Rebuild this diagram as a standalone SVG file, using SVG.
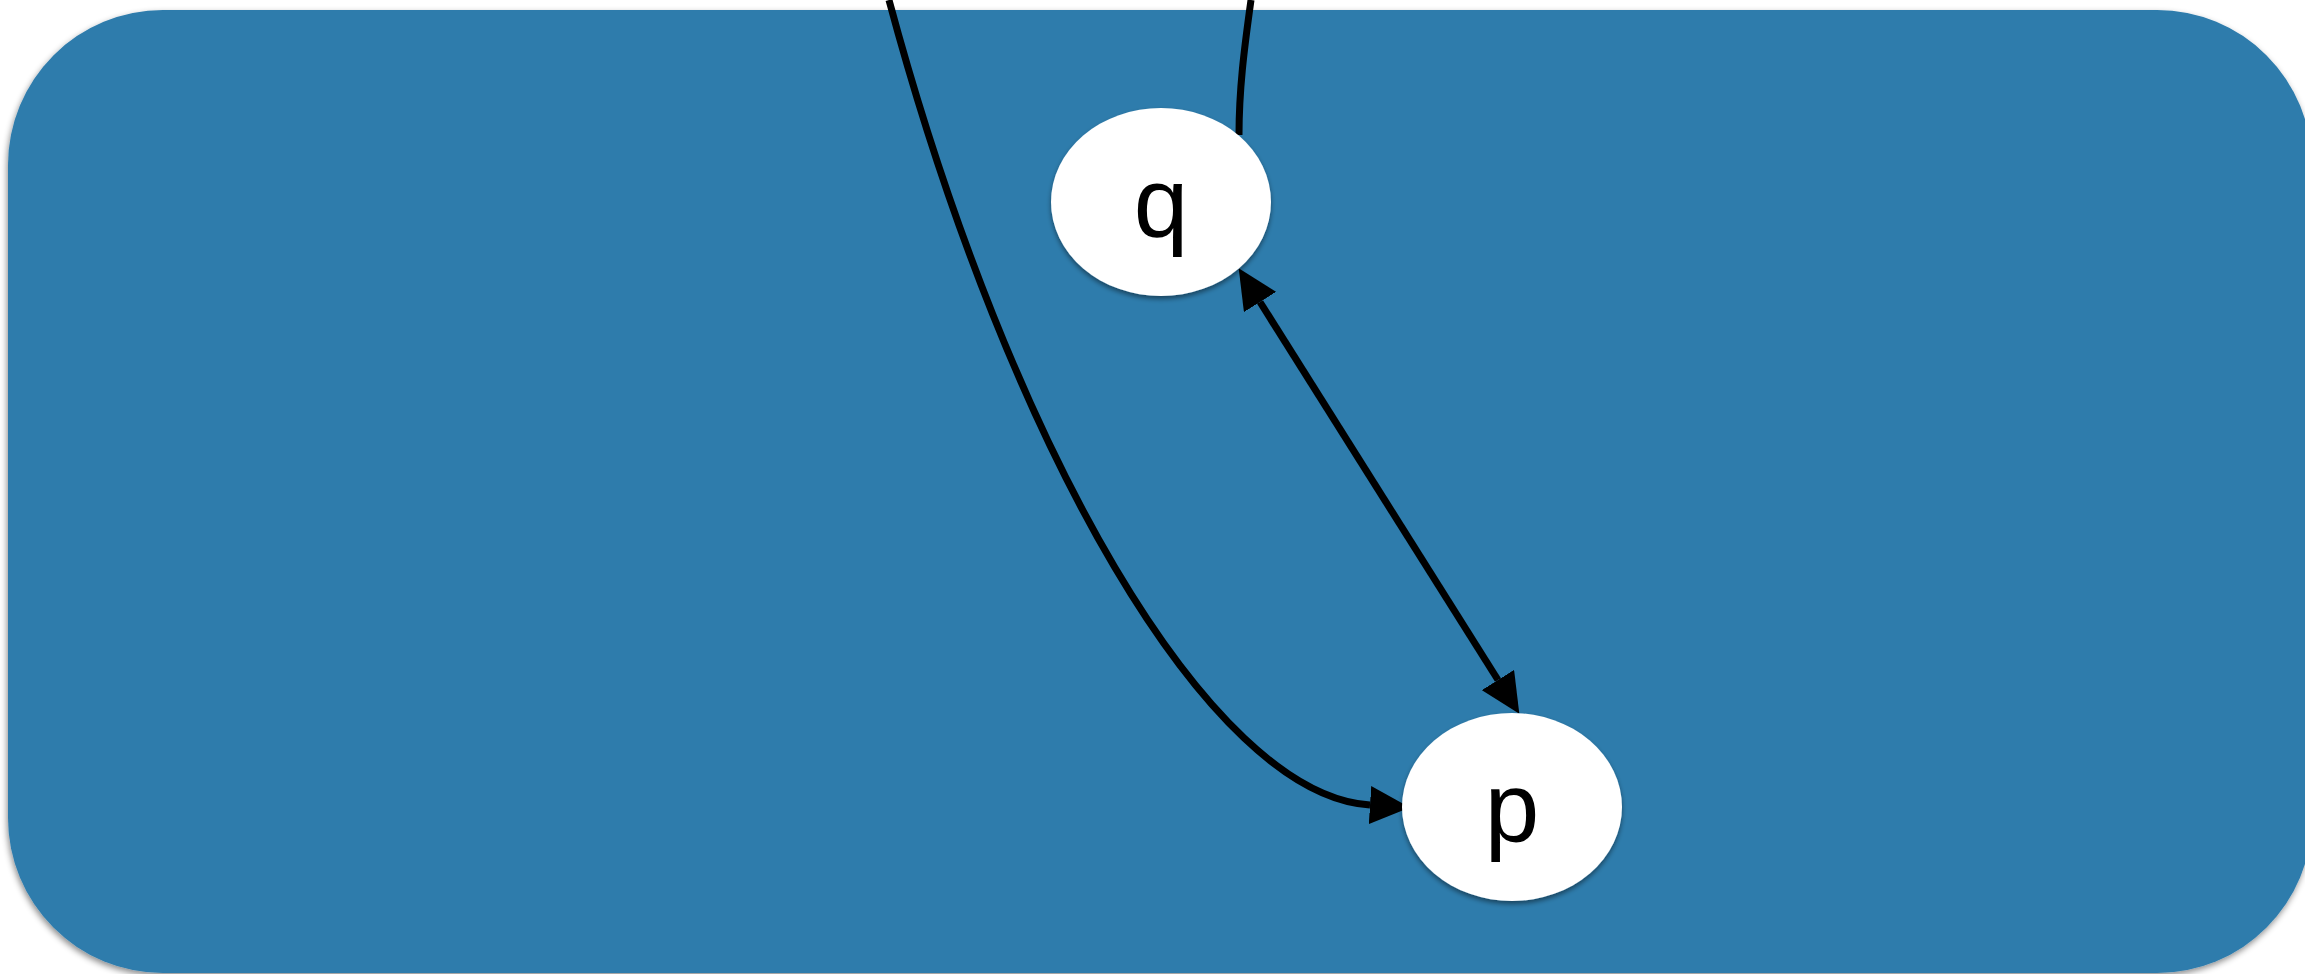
<svg xmlns="http://www.w3.org/2000/svg" width="2305" height="974" viewBox="0 0 2305 974">
  <style>
    .bg { fill: #2e7cac; }
    .node { fill: #ffffff; }
    .label { font-family: "Liberation Sans", Arial, Helvetica, sans-serif; font-size: 98px; fill: #000000; text-anchor: middle; }
    .edge { fill: none; stroke: #000000; stroke-width: 7; }
  </style>
  <defs>
    <filter id="shadowBg" x="-5%" y="-5%" width="110%" height="115%">
      <feDropShadow dx="-1" dy="3" stdDeviation="3" flood-color="#000" flood-opacity="0.45"/>
    </filter>
    <filter id="shadowNode" x="-20%" y="-20%" width="140%" height="150%">
      <feDropShadow dx="0" dy="3" stdDeviation="2.5" flood-color="#000" flood-opacity="0.45"/>
    </filter>
    <marker id="arrow" viewBox="0 0 40 38" markerWidth="40" markerHeight="38" refX="0" refY="19" markerUnits="userSpaceOnUse" orient="auto-start-reverse">
      <path d="M0,0 L40,19 L0,38 z" fill="#000000"/>
    </marker>
  </defs>
  <rect width="2305" height="974" fill="#ffffff"/>
  <g id="background">
    <rect class="bg" x="8" y="10" width="2304" height="963" rx="155" ry="155" filter="url(#shadowBg)"/>
  </g>
  <g id="connectors">
    <path class="edge" d="M889,0 C1010,450 1210,795 1370,805" marker-end="url(#arrow)"/>
    <path class="edge" d="M1251,0 C1244,50 1239,90 1239,135"/>
    <line class="edge" x1="1260" y1="302" x2="1498" y2="680" marker-start="url(#arrow)" marker-end="url(#arrow)"/>
  </g>
  <g id="node-q">
    <ellipse class="node" cx="1161" cy="202" rx="110" ry="94" filter="url(#shadowNode)"/>
    <text class="label" x="1161" y="237">q</text>
  </g>
  <g id="node-p">
    <ellipse class="node" cx="1512" cy="807" rx="110" ry="94" filter="url(#shadowNode)"/>
    <text class="label" x="1512" y="842">p</text>
  </g>
</svg>
